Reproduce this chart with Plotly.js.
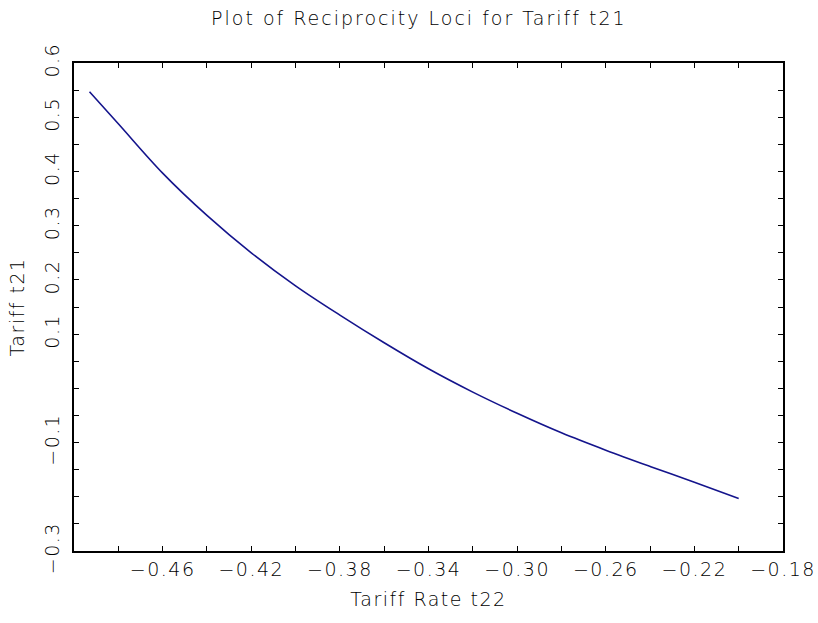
<!DOCTYPE html>
<html>
<head>
<meta charset="utf-8">
<script src="https://cdn.plot.ly/plotly-3.0.1.min.js"></script>
<style>
html,body{margin:0;padding:0;background:#fff;}
#chart{width:818px;height:623px;}
#chart text{letter-spacing:1.5px;}
#chart .gtitle{letter-spacing:2px;}
</style>
</head>
<body>
<div id="chart"></div>
<script>
// Data
var tariffRateT22 = [-0.493, -0.48, -0.46, -0.44, -0.42, -0.40, -0.38, -0.36, -0.34, -0.32, -0.30, -0.28, -0.26, -0.24, -0.22, -0.20];
var tariffT21     = [0.547, 0.488, 0.397, 0.319, 0.250, 0.189, 0.135, 0.084, 0.036, -0.007, -0.046, -0.082, -0.114, -0.144, -0.173, -0.203];

// Axis ticks (labels blank where the reference shows none)
var xTickVals = [-0.50, -0.48, -0.46, -0.44, -0.42, -0.40, -0.38, -0.36, -0.34, -0.32, -0.30, -0.28, -0.26, -0.24, -0.22, -0.20, -0.18];
var xTickText = ["", "", "\u22120.46", "", "\u22120.42", "", "\u22120.38", "", "\u22120.34", "", "\u22120.30", "", "\u22120.26", "", "\u22120.22", "", "\u22120.18"];
var yTickVals = [-0.30, -0.25, -0.20, -0.15, -0.10, -0.05, 0.00, 0.05, 0.10, 0.15, 0.20, 0.25, 0.30, 0.35, 0.40, 0.45, 0.50, 0.55, 0.60];
var yTickText = ["\u22120.3", "", "", "", "\u22120.1", "", "", "", "0.1", "", "0.2", "", "0.3", "", "0.4", "", "0.5", "", "0.6"];

var font = {family: "DejaVu Sans, Verdana, sans-serif", size: 19, color: "#000000", weight: 200};

var trace = {
  x: tariffRateT22,
  y: tariffT21,
  type: "scatter",
  mode: "lines",
  line: {color: "#14148c", width: 1.6, shape: "spline", smoothing: 1},
  hoverinfo: "skip"
};

var layout = {
  width: 818,
  height: 623,
  margin: {l: 74, r: 35, t: 63, b: 72},
  paper_bgcolor: "#ffffff",
  plot_bgcolor: "#ffffff",
  showlegend: false,
  font: font,
  title: {
    text: "Plot of Reciprocity Loci for Tariff t21",
    font: {family: font.family, size: 19, color: "#000000", weight: 200},
    xref: "container", x: 0.512, xanchor: "center",
    yref: "container", y: 0.97, yanchor: "middle"
  },
  xaxis: {
    range: [-0.50, -0.18],
    tickmode: "array",
    tickvals: xTickVals,
    ticktext: xTickText,
    ticks: "inside",
    ticklen: 5,
    tickwidth: 1,
    tickcolor: "#000",
    showline: true,
    linecolor: "#000",
    linewidth: 2,
    mirror: "ticks",
    showgrid: false,
    zeroline: false,
    ticklabelstandoff: 0,
    tickfont: font,
    title: {text: "Tariff Rate t22", font: font, standoff: 14}
  },
  yaxis: {
    range: [-0.30, 0.60],
    tickmode: "array",
    tickvals: yTickVals,
    ticktext: yTickText,
    tickangle: -90,
    ticks: "inside",
    ticklen: 5,
    tickwidth: 1,
    tickcolor: "#000",
    showline: true,
    linecolor: "#000",
    linewidth: 2,
    mirror: "ticks",
    showgrid: false,
    zeroline: false,
    ticklabelstandoff: 5,
    tickfont: font,
    title: {text: "Tariff t21", font: font, standoff: 12}
  }
};

Plotly.newPlot("chart", [trace], layout, {displayModeBar: false, staticPlot: true});
</script>
</body>
</html>
